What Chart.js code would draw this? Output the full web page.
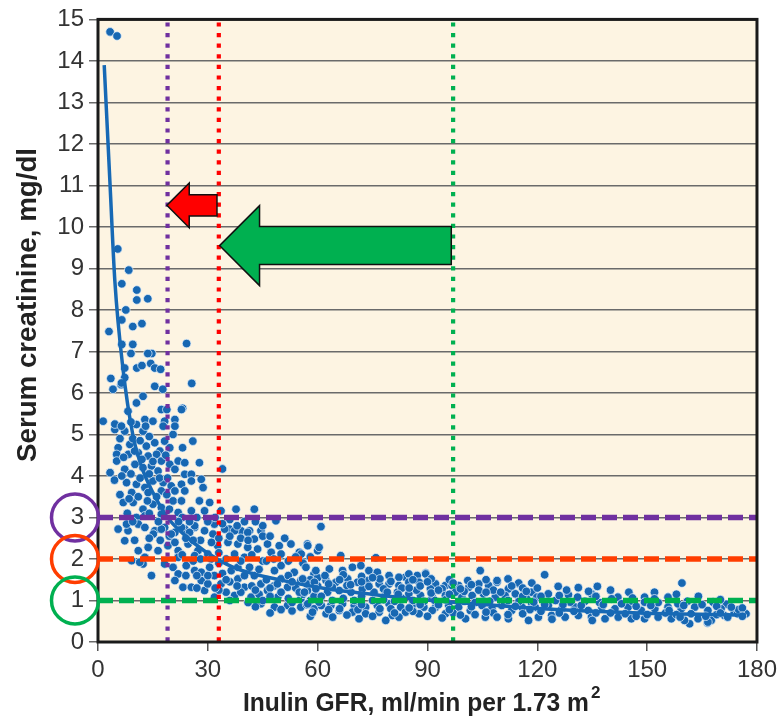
<!DOCTYPE html>
<html>
<head>
<meta charset="utf-8">
<script src="https://cdn.jsdelivr.net/npm/chart.js@4.4.1/dist/chart.umd.min.js"></script>
<style>
  html, body { margin: 0; padding: 0; background: #fff; }
  #wrap { width: 782px; height: 723px; }
</style>
</head>
<body>
<div id="wrap"><canvas id="chart"></canvas></div>
<script>
// Fitted curve
const fitGfr = [1.7, 3.3, 4.6, 6.8, 9.5, 12, 15, 19, 24, 29, 37, 50, 62, 73, 85, 97, 120, 148, 177];
const fitScr = [13.9, 11.0, 8.7, 6.6, 5.0, 4.2, 3.6, 3.0, 2.55, 2.2, 1.8, 1.49, 1.29, 1.17, 1.05, 0.96, 0.81, 0.70, 0.65];

// Patients, GFR below ~20
const pointsSevere = [
  [3.3,14.7],[5.2,14.6],
  [5.4,9.47],[8.4,8.96],[6.5,8.63],[10.6,8.48],[10.6,8.24],[13.6,8.27],[7.6,8.0],[6.5,7.76],[12,7.67],[9.5,7.6],
  [3,7.48],[6.5,7.17],[9.5,7.17],[9,6.95],[14.7,6.95],[13.6,6.95],[7.3,6.6],[10.6,6.6],[12,6.66],[14.4,6.71],
  [15.5,6.6],[17.1,6.57],[3.5,6.35],[7.3,6.37],[6.3,6.2],[15.5,6.16],[17.7,6.09],[4.1,6.09],[6.4,6.24],
  [10.5,5.76],[12.3,5.92],[8.2,5.56],[12.8,5.36],[17.3,5.6],[1.4,5.32],[4.6,5.12],[10.5,5.24],[15,5.32],[18.2,5.32],
  [12.3,5.08],[7.3,5.08],[4.6,5.25],[6.4,5.2],[13,5.2],[17.8,5.2],[9,5.3],[18.8,5.6],
  [5.5,4.68],[8.7,4.76],[11,4.56],[13.2,4.72],[15.5,4.8],[16.9,4.6],[18.2,4.84],[19.6,4.68],[5.1,4.52],[8.3,4.52],
  [13.7,4.48],[16,4.52],[5.1,4.36],[10.1,4.28],[12.3,4.2],[14.6,4.24],[17.3,4.36],[19.6,4.28],[3.3,4.08],[7.3,4.16],
  [16.4,4.12],[7.8,3.84],[10.5,3.8],[12.8,3.72],[15,3.88],[17.8,3.84],[9.2,3.6],[13.7,3.6],[17.3,3.64],[4.5,3.9],[6,3.55],
  [6.9,3.36],[9.6,3.36],[12.3,3.2],[15,3.32],[17.3,3.24],[12.8,3.04],[17.3,3.08],[8,3.1],[10.5,3.0],
  [5.5,2.72],[8.2,2.68],[11,2.84],[12.8,2.76],[15.5,2.68],[18.2,2.76],[7.8,2.84],[7.3,2.44],[15.1,2.6],[17.3,2.72],
  [11,2.2],[13.7,2.28],[16.4,2.2],[19.1,2.32],[12.8,2.04],[9.2,1.96],[12.3,1.88],[11.4,1.92],[14.6,1.6],[18.2,1.88],
  [6,4.9],[9.5,4.9],[11.5,4.85],[14,4.95],[7,4.45],[10,4.6],[12,4.4],[15,4.35],[18.5,4.5],[6.5,4.0],[9,4.05],
  [11.5,3.95],[14,4.05],[16.8,3.95],[19,3.95],[8.5,3.45],[11,3.5],[13.5,3.4],[16,3.5],[18.8,3.55],[19.5,3.2],
  [14,3.1],[9.5,2.9],[16.5,2.9],[19.5,2.55],[14,2.5],[10,2.45],[17,2.45]
];

// Patients, GFR ~20 to 60
const pointsModerate = [
  [24.2,7.19],[25.6,6.23],[23.1,5.63],[25.9,4.84],[23.1,4.68],[34,4.17],[22.8,5.6],[21,5.36],[20.5,5.0],[21,5.2],
  [21.9,4.36],[23.7,4.32],[27.7,4.32],[21,4.16],[23.7,4.04],[25.5,4.04],
  [20,3.76],[22.8,3.8],[25.5,3.88],[28.2,3.92],[28.7,3.72],[21,3.64],[23.7,3.64],
  [20.5,3.4],[22.8,3.4],[25.5,3.16],[27.7,3.4],[30.5,3.36],[33.6,3.16],[37.7,3.2],[42.7,3.2],[21.9,3.12],[29.1,3.16],
  [21,2.64],[23.7,2.72],[26.4,2.76],[29.1,2.68],[31.8,2.84],[35.9,2.72],[39.1,2.68],[41.4,2.68],[44.5,2.68],[48.6,2.92],[60.9,2.78],
  [20,2.6],[22.8,2.76],[25,2.64],[26.4,2.8],[31.4,2.6],[34.6,2.72],[37.3,2.68],[40.9,2.64],[45,2.8],[42.7,2.48],
  [46.3,2.36],[49.5,2.32],[52.7,2.36],[55,2.16],[57.2,2.36],[60,2.2],
  [21.9,2.2],[24.6,2.36],[27.3,2.2],[30,2.12],[32.7,2.32],[35.5,2.4],[38.2,2.36],[40.9,2.28],[43.6,2.24],[47.3,2.16],
  [50,2.12],[21.9,2.04],[26.4,2.08],[30.9,2.0],[37.3,2.12],[35,2.0],[40,2.04],
  [20.5,1.8],[21.9,1.64],[23.2,1.32],[24.1,1.84],[26.4,1.72],[28.2,1.48],[29.1,1.24],[30.5,1.8],[31.8,1.6],[33.6,1.4],
  [35,1.2],[36.4,1.72],[38.2,1.52],[40,1.32],[41.4,1.8],[42.7,1.6],[44.5,1.4],[46.3,1.24],[48.2,1.72],[50,1.52],
  [51.8,1.32],[53.6,1.68],[55.4,1.48],[57.2,1.24],[59,1.64],[21,1.48],[25.5,1.32],[31.8,1.08],[37.3,1.12],[41.8,1.08],
  [49.1,1.08],[55.4,1.04],[28.2,1.68],[38.2,1.8],[50,1.84],
  [48.2,0.84],[51.8,0.88],[55.4,0.84],[59,0.8],[44.5,0.92],[57.3,2.32],[55.5,2.12],
  [23,3.0],[27,3.0],[32,3.0],[36,2.95],[40,2.9],[24,2.5],[28,2.45],[33,2.5],[39,2.5],[45,2.55],[26,1.95],[33,1.9],
  [39,1.95],[45,1.95],[48,2.0],[52,1.95],[56,1.9],[27,1.6],[34,1.65],[46,1.5],[52,1.6],[58,1.5],[30,1.4],[36,1.45],
  [42,1.35],[48,1.35],[54,1.3],[60,1.35],[33,1.25],[39,1.2],[44,1.15],[50,1.2],[56,1.15],[45,1.0],[52,1.05],[58,1.0],
  [47,0.7],[53,0.75],[58,0.62],[43,0.85],
  [22,2.9],[25,2.9],[30,2.9],[34,2.85],[38,2.8],[43,2.9],[21,2.4],[26,2.45],[31,2.4],[36,2.55],[41,2.45],[47,2.55],
  [51,2.5],[23,2.1],[28,2.0],[33,2.15],[42,2.1],[46,1.95],[54,2.05],[58,2.05],[24,1.6],[30,1.6],[35,1.5],[40,1.6],
  [44,1.75],[47,1.3],[53,1.45],[57,1.4],[60,1.55],[27,1.3],[32,1.3],[38,1.35],[43,1.25],[49,1.4],[55,1.2],[59,1.1],
  [36,1.0],[41,0.95],[47,1.1],[53,0.95],[57,0.9],[50,0.78],[61,0.88]
];

// Patients, GFR above ~60
const pointsMild = [
  [60.4,2.28],[66.3,2.08],[75.9,2.03],[104.4,1.72],[89.5,1.66],[87.2,1.6],[84,1.56],[122,1.62],[159.5,1.42],
  [56.8,1.8],[59.5,1.72],[63.2,1.76],[66.8,1.72],[69.5,1.8],[71.8,1.84],[74,1.72],[76.3,1.68],[79.5,1.6],[82.2,1.56],
  [84.9,1.64],[89.5,1.64],[92.2,1.4],[94.9,1.36],
  [55.9,1.52],[59.1,1.44],[62.3,1.48],[65,1.44],[68.2,1.52],[70.9,1.44],[73.6,1.48],[76.8,1.4],[79.5,1.4],[82.2,1.36],
  [84.9,1.44],[87.7,1.44],[90.8,1.28],[94,1.28],[96.7,1.36],
  [56.4,1.2],[59.5,1.28],[62.7,1.2],[65.9,1.24],[69.1,1.2],[72.2,1.28],[75.4,1.2],[78.6,1.16],[81.8,1.2],[84.9,1.16],
  [88.1,1.12],[91.3,1.08],[94.9,1.12],
  [57.3,0.92],[60.4,0.96],[63.6,0.88],[66.8,0.92],[70,0.88],[73.1,0.84],[76.3,0.88],[79.5,0.92],[82.7,0.84],[85.8,0.88],
  [89,0.84],[92.2,0.84],[95.8,0.88],
  [58.6,0.72],[62.3,0.68],[65.9,0.76],[69.5,0.72],[73.1,0.68],[76.8,0.72],[80.4,0.64],[84,0.72],[87.7,0.68],[91.3,0.76],[94.9,0.68],
  [64.1,0.6],[71.3,0.56],[82.2,0.6],[78.6,0.52],
  [98.5,1.36],[101.3,1.32],[104,1.4],[106.7,1.36],[109,1.44],[112.1,1.28],[114.9,1.4],[118.5,1.2],[99.4,1.08],[102.2,1.12],
  [105.3,1.16],[108.5,1.08],[111.2,1.12],[114,1.16],[117.1,1.04],[119.9,1.08],[98.5,0.84],[101.7,0.76],[104.9,0.88],
  [107.6,0.8],[110.3,0.88],[113,0.76],[115.8,0.84],[118.5,0.92],[100.4,0.56],[105.8,0.6],[112.1,0.56],[117.6,0.52],[97.6,1.2],
  [109,1.48],[114.9,1.42],[118.5,1.42],[125.7,1.34],[131.2,1.31],[136.4,1.34],[142,1.08],[149.3,1.08],[155.7,1.08],
  [161.6,0.44],[166.5,0.46],[123,1.16],[128.5,1.14],[134.8,1.16],[171.6,0.91],
  [119.4,0.84],[123,0.88],[126.7,0.8],[130.3,0.84],[133.9,0.76],[137.6,0.84],[141.2,0.8],[144.8,0.84],[148.4,0.76],
  [152.1,0.8],[155.7,0.84],[159.3,0.8],[163,0.84],[166.6,0.76],[170.2,0.8],[173.8,0.72],[177,0.68],
  [120.3,0.6],[123.9,0.64],[127.6,0.6],[131.2,0.64],[134.8,0.6],[138.5,0.56],[142.1,0.6],[145.7,0.56],[149.3,0.56],
  [153,0.6],[156.6,0.56],[160.2,0.52],[163.9,0.56],[167.5,0.52],[171.1,0.64],[174.7,0.68],
  [166.6,0.48],[140.3,1.04],[149.3,0.96],[158.4,0.92],
  [61,1.1],[64,1.0],[67,1.05],[70,1.0],[72,1.1],[75,1.0],[78,1.02],[81,0.98],[83,1.05],[86,1.0],[89,0.98],[92,1.0],
  [95,1.02],[100,0.98],[103,0.95],[107,0.98],[111,0.95],[115,0.98],[119,0.96],[125,1.0],[129,0.96],[133,0.98],
  [137,0.95],[146,0.98],[153,0.95],[161,0.98],[168,0.96],
  [62,1.6],[67,1.62],[72,1.58],[77,1.52],[80,1.46],[86,1.5],[91,1.52],[96,1.5],[101,1.48],[106,1.5],[112,1.52],
  [116,1.3],[120,1.3],[128,1.25],[134,1.22],[140,1.25],[145,1.2],[152,1.2],[158,1.15],[164,1.1],[170,1.02],[175,0.78],[176,0.82],
  [64,1.32],[68,1.36],[74,1.34],[78,1.28],[83,1.3],[87,1.25],[91,1.18],[96,1.15],[100,1.22],[104,1.25],[108,1.25],
  [112,1.0],[116,1.1],[121,1.1],[126,1.12],[131,1.08],[136,1.1],[146,1.06],[152,1.04],
  [66,0.8],[71,0.78],[75,0.62],[80,0.8],[86,0.74],[90,0.62],[94,0.58],[97,0.7],[103,0.66],[108,0.7],[112,0.66],
  [116,0.68],[121,0.74],[126,0.7],[130,0.74],[136,0.7],[140,0.7],[144,0.68],[150,0.66],[155,0.7],[158,0.66],
  [162,0.68],[166,0.62],[169,0.66],[172,0.6],[176,0.62],
  [63,1.4],[66,1.5],[69,1.38],[72,1.45],[75,1.55],[79,1.2],[82,1.15],[85,1.3],[88,1.35],[90,1.45],[93,1.25],[97,1.42],
  [99,1.28],[102,1.38],[106,1.2],[110,1.2],[113,1.35],[117,1.22],[63,0.78],[68,0.65],[72,0.9],[77,0.8],[81,0.7],
  [85,0.82],[88,0.9],[93,0.9],[96,0.78],[99,0.65],[102,0.85],[106,0.72],[109,0.6],[114,0.86],[118,0.78],[122,0.9],
  [127,0.9],[132,0.88],[138,0.9],[143,0.92],[147,0.86],[151,0.88],[156,0.76],[160,0.88],[165,0.9],[169,0.86],
  [173,0.84],[124,0.55],[135,0.52],[147,0.62],[159,0.6],[170,0.7]
];

// Reference lines
const creatLevels = [3, 2, 1];
const creatColors = ['#7030a0', '#ff3d00', '#00b050'];
const gfrLevels = [19, 33, 97];
const gfrColors = ['#7030a0', '#ff0000', '#00b050'];

// Arrows: from GFR, to GFR, at creatinine level
const arrowFrom = [96.5, 32.5];
const arrowTo = [33.2, 18.8];
const arrowAt = [9.55, 10.52];
const arrowColors = ['#00b050', '#ff0000'];

const toXY = p => ({ x: p[0], y: p[1] });
const patients = pointsSevere.concat(pointsModerate, pointsMild).map(toXY);
const fitLine = fitGfr.map((g, i) => ({ x: g, y: fitScr[i] }));

const FONT = '"Liberation Sans", Arial, Helvetica, sans-serif';

// draw text squeezed/stretched to a given width
function fitText(ctx, text, x, y, width) {
  const w = ctx.measureText(text).width;
  ctx.save();
  ctx.translate(x, y);
  ctx.scale(width / w, 1);
  ctx.fillText(text, 0, 0);
  ctx.restore();
}

const decor = {
  id: 'decor',
  beforeDraw(chart) {
    const { ctx, chartArea: a } = chart;
    ctx.save();
    ctx.fillStyle = '#fdf4e2';
    ctx.fillRect(a.left, a.top, a.right - a.left, a.bottom - a.top);
    ctx.restore();
  },
  afterDatasetsDraw(chart) {
    const { ctx, chartArea: a, scales: { x, y } } = chart;
    ctx.save();
    // horizontal dashed lines
    ctx.lineWidth = 5.5;
    ctx.setLineDash([15, 6]);
    creatLevels.forEach((v, i) => {
      const py = y.getPixelForValue(v);
      ctx.strokeStyle = creatColors[i];
      ctx.beginPath();
      ctx.moveTo(a.left, py);
      ctx.lineTo(a.right, py);
      ctx.stroke();
    });
    // vertical dotted lines
    ctx.lineWidth = 4.2;
    ctx.setLineDash([4.2, 6.4]);
    gfrLevels.forEach((v, i) => {
      const px = x.getPixelForValue(v);
      ctx.strokeStyle = gfrColors[i];
      ctx.beginPath();
      ctx.moveTo(px, a.top + 3);
      ctx.lineTo(px, a.bottom);
      ctx.stroke();
    });
    ctx.setLineDash([]);
    // arrows
    arrowFrom.forEach((from, i) => {
      const x0 = x.getPixelForValue(from);
      const x1 = x.getPixelForValue(arrowTo[i]);
      const py = y.getPixelForValue(arrowAt[i]);
      const size = Math.abs(x0 - x1) > 100 ? 1 : 0.56;
      const head = 40 * size, hh = 40 * size, bh = 19 * size;
      const xh = x1 + head;
      ctx.beginPath();
      ctx.moveTo(x1, py);
      ctx.lineTo(xh, py - hh);
      ctx.lineTo(xh, py - bh);
      ctx.lineTo(x0, py - bh);
      ctx.lineTo(x0, py + bh);
      ctx.lineTo(xh, py + bh);
      ctx.lineTo(xh, py + hh);
      ctx.closePath();
      ctx.fillStyle = arrowColors[i];
      ctx.fill();
      ctx.lineWidth = 1.5;
      ctx.strokeStyle = '#111';
      ctx.stroke();
    });
    ctx.restore();
  },
  afterDraw(chart) {
    const { ctx, chartArea: a, scales: { y } } = chart;
    ctx.save();
    // frame
    ctx.lineWidth = 3;
    ctx.strokeStyle = '#1a1a1a';
    ctx.strokeRect(a.left, a.top, a.right - a.left, a.bottom - a.top);
    // circles around tick labels
    ctx.lineWidth = 3.5;
    creatLevels.forEach((v, i) => {
      ctx.strokeStyle = creatColors[i];
      ctx.beginPath();
      ctx.arc(a.left - 23, y.getPixelForValue(v), 23.5, 0, Math.PI * 2);
      ctx.stroke();
    });
    // axis titles
    ctx.fillStyle = '#222';
    ctx.textBaseline = 'alphabetic';
    ctx.textAlign = 'left';
    const main = 'Inulin GFR, ml/min per 1.73 m';
    ctx.font = 'bold 26px ' + FONT;
    fitText(ctx, main, 243, 711, 346);
    ctx.font = 'bold 17px ' + FONT;
    ctx.fillText('2', 591, 698);
    ctx.translate(36, 462);
    ctx.rotate(-Math.PI / 2);
    ctx.font = 'bold 27px ' + FONT;
    fitText(ctx, 'Serum creatinine, mg/dl', 0, 0, 314);
    ctx.restore();
  }
};

new Chart(document.getElementById('chart'), {
  type: 'scatter',
  data: {
    datasets: [
      {
        type: 'line',
        data: fitLine,
        borderColor: '#1769b5',
        borderWidth: 3.5,
        pointRadius: 0,
        fill: false,
        cubicInterpolationMode: 'monotone',
        order: 0
      },
      {
        data: patients,
        backgroundColor: '#1767b2',
        borderColor: 'rgba(225,238,250,0.85)',
        borderWidth: 0.9,
        pointRadius: 4.3,
        order: 1
      }
    ]
  },
  options: {
    responsive: true,
    maintainAspectRatio: false,
    animation: false,
    layout: { padding: { top: 16, right: 22, left: 0, bottom: 0 } },
    plugins: { legend: { display: false }, tooltip: { enabled: false } },
    scales: {
      x: {
        type: 'linear', min: 0, max: 180,
        afterFit: s => { s.height = 81; },
        ticks: { stepSize: 30, color: '#333', padding: 5, font: { size: 24, family: FONT } },
        grid: { drawOnChartArea: false, drawTicks: true, tickLength: 9, color: '#555', lineWidth: 1.5 },
        border: { display: false }
      },
      y: {
        min: 0, max: 15,
        afterFit: s => { s.width = 98; },
        ticks: { stepSize: 1, color: '#333', padding: 5, font: { size: 24, family: FONT } },
        grid: { color: '#6a6a6a', lineWidth: 1.5, tickLength: 9 },
        border: { display: false }
      }
    }
  },
  plugins: [decor]
});
</script>
</body>
</html>
